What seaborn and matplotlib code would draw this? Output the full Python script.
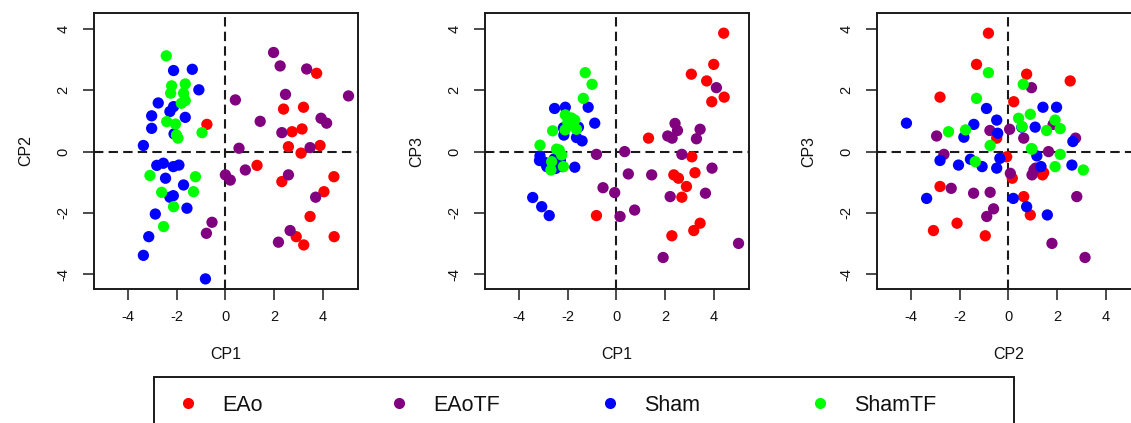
import matplotlib
matplotlib.use('Agg')
import matplotlib.pyplot as plt
import seaborn as sns
import pandas as pd
from matplotlib.lines import Line2D
from matplotlib.patches import Rectangle

# ---------------- data ----------------
groups = ['EAo', 'EAoTF', 'Sham', 'ShamTF']
colors = ['#FF0000', '#800080', '#0000FF', '#00FF00']
ticks = [-4, -2, 0, 2, 4]

# Panel 1: CP1 (x) vs CP2 (y)
p1_EAo_x = [-0.76, 3.75, 2.39, 3.21, 2.74, 3.15, 2.59, 3.89, 3.11, 1.30, 2.32, 4.46, 4.05, 3.48, 2.91, 4.47, 3.22]
p1_EAo_y = [0.89, 2.56, 1.39, 1.45, 0.65, 0.74, 0.16, 0.20, -0.05, -0.45, -0.98, -0.82, -1.31, -2.12, -2.78, -2.78, -3.05]
p1_EAoTF_x = [1.98, 2.25, 3.34, 5.06, 2.47, 0.41, 1.43, 3.93, 4.16, 2.32, 0.56, 3.48, 0.82, 0.00, 0.20, 2.59, 3.71, -0.55, -0.78, 2.66, 2.18]
p1_EAoTF_y = [3.24, 2.80, 2.70, 1.82, 1.87, 1.69, 0.99, 1.09, 0.93, 0.62, 0.11, 0.13, -0.60, -0.76, -0.93, -0.76, -1.49, -2.31, -2.67, -2.58, -2.96]
p1_Sham_x = [-2.13, -1.36, -1.09, -2.76, -2.13, -2.28, -3.03, -1.65, -3.03, -2.11, -3.37, -2.82, -2.55, -2.14, -1.91, -2.46, -1.72, -2.14, -2.28, -1.58, -2.88, -3.15, -3.37, -0.82]
p1_Sham_y = [2.65, 2.69, 2.02, 1.59, 1.47, 1.31, 1.17, 1.12, 0.76, 0.58, 0.20, -0.45, -0.38, -0.49, -0.44, -0.87, -1.09, -1.44, -1.49, -1.85, -2.04, -2.78, -3.39, -4.16]
p1_ShamTF_x = [-2.43, -2.21, -1.65, -2.25, -1.72, -1.65, -1.81, -2.41, -2.05, -2.01, -1.95, -0.96, -3.10, -1.23, -2.62, -1.31, -2.13, -2.54]
p1_ShamTF_y = [3.13, 2.15, 2.21, 1.91, 1.91, 1.67, 1.58, 0.98, 0.90, 0.54, 0.44, 0.62, -0.78, -0.82, -1.33, -1.31, -1.80, -2.45]

# Panel 2: CP1 (x) vs CP3 (y)
p2_EAo_x = [4.41, 4.00, 3.08, 3.71, 4.43, 3.92, 1.32, 3.10, 3.23, 2.36, 2.55, 2.88, 2.69, -0.82, 3.44, 3.18, 2.28]
p2_EAo_y = [3.87, 2.85, 2.53, 2.31, 1.78, 1.63, 0.44, -0.17, -0.69, -0.76, -0.87, -1.14, -1.49, -2.09, -2.34, -2.58, -2.75]
p2_EAoTF_x = [4.11, 2.41, 2.51, 2.11, 2.29, 3.44, 3.29, 0.34, 2.69, -0.82, 3.93, 0.49, 1.45, -0.55, -0.07, 2.21, 3.66, 0.75, 0.15, 5.02, 1.92]
p2_EAoTF_y = [2.09, 0.92, 0.69, 0.51, 0.44, 0.73, 0.42, 0.00, -0.09, -0.09, -0.54, -0.73, -0.76, -1.18, -1.34, -1.47, -1.36, -1.91, -2.12, -3.00, -3.46]
p2_Sham_x = [-2.54, -2.10, -1.16, -0.89, -2.18, -1.56, -2.16, -1.64, -1.41, -3.14, -3.16, -2.86, -2.56, -2.37, -2.21, -1.71, -3.44, -3.07, -2.76, -1.95, -1.70, -2.95, -2.50, -2.30]
p2_Sham_y = [1.41, 1.45, 1.45, 0.93, 0.78, 0.80, 0.54, 0.46, 0.35, -0.14, -0.29, -0.49, -0.24, -0.44, -0.49, -0.51, -1.50, -1.80, -2.09, 0.95, 0.85, -0.35, -0.55, -0.30]
p2_ShamTF_x = [-1.28, -1.00, -1.36, -2.10, -1.71, -1.94, -1.64, -2.11, -2.62, -3.14, -2.46, -2.25, -2.66, -2.18, -2.69, -1.85, -2.00, -2.35]
p2_ShamTF_y = [2.58, 2.20, 1.74, 1.20, 1.03, 0.87, 0.73, 0.71, 0.68, 0.21, 0.08, -0.11, -0.33, -0.49, -0.60, 1.10, 0.95, 0.05]

# Panel 3: CP2 (x) vs CP3 (y)
p3_EAo_x = [-0.82, -1.31, 0.75, 2.54, -2.81, 0.22, -0.48, -0.07, 1.45, 1.40, 0.16, 0.63, 0.90, -2.81, -2.11, -3.08, -0.95]
p3_EAo_y = [3.87, 2.85, 2.53, 2.31, 1.78, 1.63, 0.44, -0.17, -0.69, -0.76, -0.87, -1.47, -2.07, -1.14, -2.34, -2.58, -2.75]
p3_EAoTF_x = [0.95, 1.84, 0.05, -0.76, -2.95, 0.63, 2.76, -2.65, 1.65, 1.12, 0.97, 0.08, -2.35, -1.43, -0.75, -0.61, -0.89, 2.81, 1.79, 3.15, 1.05]
p3_EAoTF_y = [2.09, 0.89, 0.73, 0.69, 0.51, 0.44, 0.44, -0.09, 0.00, -0.54, -0.76, -0.71, -1.20, -1.36, -1.33, -1.87, -2.12, -1.47, -3.00, -3.46, -0.60]
p3_Sham_x = [-4.19, -0.90, -0.48, 1.42, 1.98, -1.42, 1.10, -1.83, -0.44, 2.65, 1.17, -0.35, -1.56, -2.81, -2.05, -1.08, -0.48, 1.34, 2.61, -3.36, 0.20, 0.75, 1.60, 0.55]
p3_Sham_y = [0.93, 1.41, 1.03, 1.45, 1.45, 0.89, 0.80, 0.47, 0.60, 0.33, -0.14, -0.22, -0.25, -0.29, -0.44, -0.49, -0.54, -0.49, -0.44, -1.53, -1.53, -1.80, -2.07, 0.80]
p3_ShamTF_x = [-0.82, 0.61, -1.31, 0.42, 0.90, 0.56, 1.92, 1.57, 2.13, -2.46, -1.76, -0.75, 0.97, 2.13, -1.36, 1.92, 3.08, 0.95]
p3_ShamTF_y = [2.58, 2.20, 1.74, 1.09, 1.22, 0.82, 1.03, 0.69, 0.75, 0.65, 0.71, 0.20, 0.08, -0.09, -0.33, -0.49, -0.60, 0.10]

panels = [
    ('CP1', 'CP2', {'EAo': (p1_EAo_x, p1_EAo_y), 'EAoTF': (p1_EAoTF_x, p1_EAoTF_y),
                    'Sham': (p1_Sham_x, p1_Sham_y), 'ShamTF': (p1_ShamTF_x, p1_ShamTF_y)}),
    ('CP1', 'CP3', {'EAo': (p2_EAo_x, p2_EAo_y), 'EAoTF': (p2_EAoTF_x, p2_EAoTF_y),
                    'Sham': (p2_Sham_x, p2_Sham_y), 'ShamTF': (p2_ShamTF_x, p2_ShamTF_y)}),
    ('CP2', 'CP3', {'EAo': (p3_EAo_x, p3_EAo_y), 'EAoTF': (p3_EAoTF_x, p3_EAoTF_y),
                    'Sham': (p3_Sham_x, p3_Sham_y), 'ShamTF': (p3_ShamTF_x, p3_ShamTF_y)}),
]

# ---------------- style ----------------
sns.set_theme(style='white')
plt.rcParams['font.family'] = ['Liberation Sans', 'DejaVu Sans']

W, H = 1131, 423
fig = plt.figure(figsize=(W / 100, H / 100), dpi=100)
palette = dict(zip(groups, colors))
edge = '#1a1a1a'

lefts_px = [94, 485, 877]
ax_w_px, ax_h_px = 264, 276
bottom_px = 289

for (xl, yl, data), lp in zip(panels, lefts_px):
    ax = fig.add_axes([lp / W, (H - bottom_px) / H, ax_w_px / W, ax_h_px / H])
    rows = []
    for g in groups:
        xs, ys = data[g]
        for a, b in zip(xs, ys):
            rows.append({'x': a, 'y': b, 'group': g})
    df = pd.DataFrame(rows)
    ax.axhline(0, color=edge, lw=1.5, ls=(0, (4.5, 2.5)), zorder=1)
    ax.axvline(0, color=edge, lw=1.5, ls=(0, (4.5, 2.5)), zorder=1)
    sns.scatterplot(data=df, x='x', y='y', hue='group', hue_order=groups, palette=palette,
                    s=66, linewidth=0, legend=False, ax=ax, zorder=3)
    ax.set_xlim(-5.4, 5.45)
    ax.set_ylim(-4.49, 4.53)
    ax.set_xticks(ticks)
    ax.set_yticks(ticks)
    ax.set_xticklabels([str(t) for t in ticks])
    ax.set_yticklabels([str(t) for t in ticks], rotation=90, va='center')
    ax.tick_params(axis='both', which='both', bottom=True, left=True, direction='out',
                   length=8, width=1.1, color=edge, labelsize=10.5, labelcolor='#111111')
    ax.tick_params(axis='x', pad=7)
    ax.tick_params(axis='y', pad=9)
    for sp in ax.spines.values():
        sp.set_visible(True)
        sp.set_color(edge)
        sp.set_linewidth(1.4)
    ax.set_xlabel(xl, fontsize=11.5, color='#111111', labelpad=17)
    ax.set_ylabel(yl, fontsize=11.5, color='#111111', labelpad=17)
    ax.grid(False)

# ---------------- legend ----------------
fs = 15.5
fs_px = fs * 100 / 72
marker_px = [188, 399, 610, 820]
leg_y = (H - 405) / H
for g, c, mx in zip(groups, colors, marker_px):
    h = Line2D([], [], marker='o', ls='', color=c, markersize=8, markeredgewidth=0)
    fig.legend(handles=[h], labels=[g], loc='center left',
               bbox_to_anchor=((mx - 0.5 * fs_px) / W, leg_y), frameon=False,
               fontsize=fs, handlelength=1.0, handletextpad=1.08, borderpad=0,
               borderaxespad=0, labelcolor='#111111')

rect = Rectangle((154 / W, -0.2), 860 / W, 0.2 + (H - 377) / H, transform=fig.transFigure,
                 fill=False, lw=1.4, ec=edge, clip_on=False)
fig.add_artist(rect)

fig.savefig('out.png', dpi=100)
